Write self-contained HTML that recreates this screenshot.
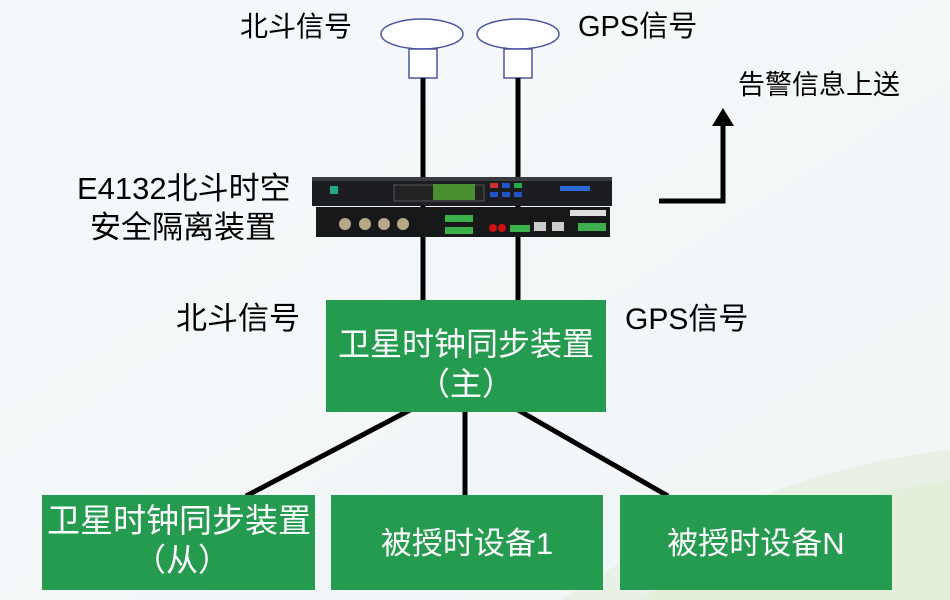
<!DOCTYPE html>
<html><head><meta charset="utf-8"><style>
html,body{margin:0;padding:0;width:950px;height:600px;overflow:hidden;background:#f3f7f9}
svg text{font-family:"Liberation Sans","Noto Sans CJK SC",sans-serif}
</style></head><body>
<svg width="950" height="600" viewBox="0 0 950 600" xmlns="http://www.w3.org/2000/svg">
<defs>
<linearGradient id="bg" x1="0" y1="0" x2="1" y2="1"><stop offset="0" stop-color="#f6f9fb"/><stop offset="1" stop-color="#f0f5f6"/></linearGradient>
</defs>
<rect width="950" height="600" fill="url(#bg)"/>
<path d="M560 600 Q760 470 950 450 L950 600 Z" fill="#e6f0de" opacity="0.7"/>
<path d="M640 600 Q800 500 950 480 L950 600 Z" fill="#dfecd4" opacity="0.6"/>

<!-- antennas -->
<ellipse cx="422" cy="34" rx="41" ry="15" fill="#fff" stroke="#4a55a0" stroke-width="1.5"/>
<rect x="409" y="49" width="28" height="29" fill="#fff" stroke="#4a55a0" stroke-width="1.5"/>
<ellipse cx="518" cy="34" rx="41" ry="15" fill="#fff" stroke="#4a55a0" stroke-width="1.5"/>
<rect x="504" y="49" width="28" height="29" fill="#fff" stroke="#4a55a0" stroke-width="1.5"/>
<line x1="423" y1="78" x2="423" y2="300" stroke="#000" stroke-width="5"/>
<line x1="518" y1="78" x2="518" y2="300" stroke="#000" stroke-width="5"/>

<!-- device -->
<rect x="312" y="177" width="300" height="29" fill="#1c1d20"/>
<rect x="312" y="177" width="300" height="4" fill="#3a3b3f"/>
<rect x="394" y="185" width="90" height="16" fill="#222" stroke="#555"/>
<rect x="433" y="184" width="42" height="16" fill="#4c8f2e"/>
<rect x="490" y="183" width="8" height="5" fill="#c33"/><rect x="502" y="183" width="8" height="5" fill="#25c"/><rect x="514" y="183" width="8" height="5" fill="#2a4"/>
<rect x="490" y="192" width="8" height="5" fill="#25c"/><rect x="502" y="192" width="8" height="5" fill="#25c"/><rect x="514" y="192" width="8" height="5" fill="#25c"/>
<rect x="560" y="186" width="30" height="5" fill="#2a6ad0"/>
<rect x="330" y="186" width="8" height="8" fill="#2a8"/>
<rect x="316" y="207" width="294" height="30" fill="#17181a"/>
<circle cx="345" cy="224" r="6" fill="#b8a88a"/><circle cx="365" cy="224" r="6" fill="#b8a88a"/><circle cx="384" cy="224" r="6" fill="#b8a88a"/><circle cx="403" cy="224" r="6" fill="#b8a88a"/>
<rect x="445" y="215" width="28" height="7" fill="#3cb04a"/><rect x="445" y="227" width="28" height="7" fill="#3cb04a"/>
<circle cx="493" cy="228" r="4" fill="#c11"/><circle cx="502" cy="228" r="4" fill="#c11"/>
<rect x="510" y="225" width="20" height="7" fill="#3cb04a"/>
<rect x="534" y="222" width="12" height="9" fill="#ccc"/><rect x="552" y="222" width="12" height="9" fill="#ccc"/>
<rect x="578" y="223" width="28" height="8" fill="#3cb04a"/>
<rect x="570" y="210" width="36" height="6" fill="#ddd"/>

<!-- arrow -->
<polyline points="659,201 723,201 723,118" fill="none" stroke="#000" stroke-width="5"/>
<polygon points="723,108 712,126 734,126" fill="#000"/>

<!-- labels -->
<text x="240" y="36" font-size="28" fill="#000">北斗信号</text>
<text x="578" y="36" font-size="29" fill="#000">GPS信号</text>
<text x="738" y="94" font-size="27" fill="#000">告警信息上送</text>
<text x="77" y="199" font-size="31" fill="#000">E4132北斗时空</text>
<text x="90" y="238" font-size="31" fill="#000">安全隔离装置</text>
<text x="176" y="329" font-size="31" fill="#000">北斗信号</text>
<text x="625" y="329" font-size="30" fill="#000">GPS信号</text>

<!-- connectors -->
<line x1="410" y1="410" x2="246" y2="496" stroke="#000" stroke-width="5"/>
<line x1="465" y1="410" x2="465" y2="496" stroke="#000" stroke-width="5"/>
<line x1="518" y1="410" x2="668" y2="496" stroke="#000" stroke-width="5"/>

<!-- boxes -->
<rect x="326" y="300" width="280" height="112" fill="#249b4f"/>
<text x="466" y="355" font-size="32" fill="#fff" text-anchor="middle">卫星时钟同步装置</text>
<text x="466" y="395" font-size="32" fill="#fff" text-anchor="middle">（主）</text>
<rect x="42" y="495" width="273" height="95" fill="#249b4f"/>
<text x="179" y="532" font-size="33" fill="#fff" text-anchor="middle">卫星时钟同步装置</text>
<text x="182" y="571" font-size="32" fill="#fff" text-anchor="middle">（从）</text>
<rect x="331" y="495" width="272" height="95" fill="#249b4f"/>
<text x="467" y="554" font-size="31" fill="#fff" text-anchor="middle">被授时设备1</text>
<rect x="620" y="495" width="272" height="95" fill="#249b4f"/>
<text x="756" y="554" font-size="31" fill="#fff" text-anchor="middle">被授时设备N</text>
</svg>
</body></html>
